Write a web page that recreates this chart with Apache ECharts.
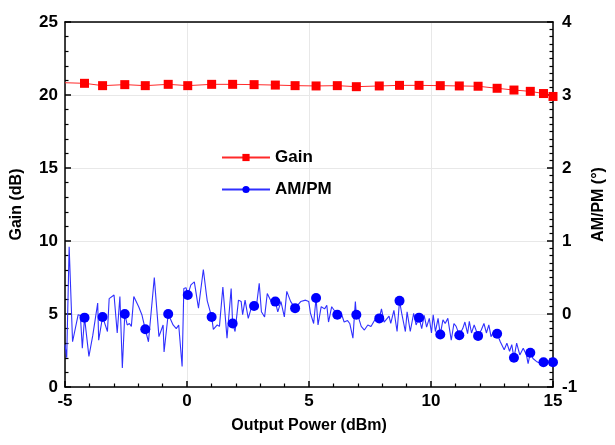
<html>
<head>
<meta charset="utf-8">
<style>
  html, body { margin: 0; padding: 0; background: #fff; }
  #container { width: 615px; height: 445px; }
</style>
</head>
<body>
<div id="container"></div>
<script type="text/javascript" src="https://cdn.jsdelivr.net/npm/echarts@6/dist/echarts.min.js"></script>
<script type="text/javascript">
  // output power (dBm) where the symbols sit, same for both curves
  const markerPower = [-4.20, -3.46, -2.55, -1.71, -0.77, 0.03, 1.01, 1.87, 2.75, 3.62, 4.43, 5.29, 6.16,
                       6.94, 7.88, 8.71, 9.51, 10.38, 11.16, 11.93, 12.71, 13.40, 14.07, 14.61, 15.0];
  const gainMarks = [20.80, 20.64, 20.71, 20.64, 20.73, 20.64, 20.73, 20.73, 20.71, 20.68, 20.64, 20.62, 20.64,
                     20.57, 20.62, 20.66, 20.66, 20.64, 20.62, 20.60, 20.46, 20.34, 20.25, 20.10, 19.90];
  const ampmMarks = [-0.05, -0.04, 0.00, -0.21, 0.00, 0.26, -0.04, -0.13, 0.11, 0.17, 0.08, 0.22, -0.01,
                     -0.01, -0.06, 0.18, -0.05, -0.28, -0.29, -0.30, -0.27, -0.60, -0.53, -0.66, -0.66];

  // line points in between the symbols
  const gainTracePower = [-5.0];
  const gainTrace = [20.84];

  const ampmTracePower = [
    -5.00, -4.93, -4.83, -4.69, -4.46, -4.37, -4.29, -4.02, -3.86, -3.66, -3.62, -3.39, -3.26, -3.19,
    -2.99, -2.86, -2.75, -2.65, -2.45, -2.36, -2.28, -2.18, -1.98, -1.85, -1.58, -1.34, -1.15, -0.98,
    -0.94, -0.57, -0.44, -0.34, -0.20, -0.13, -0.04, 0.16, 0.30, 0.47, 0.67, 0.79, 0.83, 1.08, 1.24,
    1.33, 1.47, 1.64, 1.81, 1.97, 2.11, 2.22, 2.28, 2.38, 2.51, 2.65, 2.85, 2.96, 3.05, 3.18, 3.29,
    3.45, 3.72, 3.85, 3.99, 4.09, 4.25, 4.66, 4.86, 4.99, 5.06, 5.19, 5.37, 5.50, 5.64, 5.73, 5.80,
    5.93, 6.34, 6.44, 6.58, 6.67, 6.80, 6.90, 7.04, 7.14, 7.27, 7.41, 7.54, 7.70, 7.97, 8.08, 8.28,
    8.35, 8.48, 8.61, 8.81, 8.95, 9.02, 9.15, 9.29, 9.39, 9.62, 9.72, 9.82, 9.93, 10.02, 10.09, 10.18,
    10.29, 10.49, 10.58, 10.69, 10.83, 10.94, 11.03, 11.30, 11.39, 11.50, 11.57, 11.66, 11.77, 12.06,
    12.17, 12.27, 12.37, 12.46, 12.57, 12.84, 13.00, 13.11, 13.22, 13.31, 13.51, 13.64, 13.78, 13.91,
    13.98, 14.18, 14.32, 14.45
  ];
  const ampmTrace = [
    -0.42, -0.60, 0.92, -0.38, -0.01, -0.02, -0.47, -0.58, -0.29, 0.15, -0.36, -0.04, -0.24, 0.21,
    0.26, -0.26, 0.24, -0.74, -0.15, -0.13, -0.17, 0.24, 0.10, -0.01, -0.38, 0.50, -0.31, -0.15,
    -0.52, -0.15, -0.20, -0.15, -0.72, 0.35, 0.36, 0.40, 0.44, 0.08, 0.61, 0.28, 0.18, -0.21, -0.15,
    -0.17, 0.37, -0.33, 0.35, -0.24, 0.19, 0.17, -0.01, 0.19, -0.06, 0.10, 0.12, 0.42, 0.03, -0.04, 0.28,
    0.17, 0.03, 0.17, -0.04, 0.31, 0.17, 0.17, 0.19, 0.17, 0.01, -0.13, -0.15, 0.10, 0.07, 0.12, -0.11,
    0.10, -0.01, -0.11, -0.09, -0.13, -0.33, 0.17, -0.06, -0.17, -0.22, -0.15, -0.17, -0.08, 0.07, -0.11, -0.03,
    -0.13, 0.05, -0.24, -0.01, -0.24, 0.03, -0.24, 0.01, -0.15, -0.20, -0.02, -0.18, -0.06, -0.26, -0.01, -0.24,
    -0.06, -0.08, -0.13, -0.06, -0.36, -0.13, -0.17, -0.20, -0.11, -0.27, -0.10, -0.26, -0.15, -0.22,
    -0.13, -0.26, -0.15, -0.31, -0.24, -0.38, -0.49, -0.40, -0.51, -0.42, -0.40, -0.56, -0.47, -0.56,
    -0.68, -0.61, -0.65, -0.67
  ];

  // merge trace points (no symbol) and symbol points into one sorted line
  function buildData(traceX, traceY, markX, markY) {
    let pts = [];
    traceX.forEach((x, i) => pts.push({ value: [x, traceY[i]], symbol: 'none' }));
    markX.forEach((x, i) => pts.push({ value: [x, markY[i]] }));
    pts.sort((a, b) => a.value[0] - b.value[0]);
    return pts;
  }

  const font = 'Liberation Sans';
  const labelStyle = { color: '#000', fontFamily: font, fontWeight: 'bold', fontSize: 17 };
  const nameStyle = { color: '#000', fontFamily: font, fontWeight: 'bold', fontSize: 16 };
  const axisLine = { show: true, onZero: false, lineStyle: { color: '#000', width: 1.5 } };

  var myChart = echarts.init(document.getElementById('container'), null, { renderer: 'canvas' });

  var option = {
    animation: false,
    grid: { left: 65, right: 53, top: 22, bottom: 58 },
    legend: {
      orient: 'vertical',
      left: 216,
      top: 144,
      itemWidth: 48,
      itemHeight: 9,
      itemGap: 15,
      textStyle: { color: '#000', fontFamily: font, fontWeight: 'bold', fontSize: 17 },
      data: ['Gain', 'AM/PM']
    },
    xAxis: [
      {
        type: 'value', min: -5, max: 15, interval: 5,
        name: 'Output Power (dBm)', nameLocation: 'middle', nameGap: 31, nameTextStyle: nameStyle,
        axisLine: axisLine,
        axisTick: { inside: true, length: 6, lineStyle: { color: '#000', width: 1.5 } },
        minorTick: { show: true, splitNumber: 5, length: 3.5, lineStyle: { color: '#000', width: 1.2 } },
        axisLabel: Object.assign({ margin: 6 }, labelStyle),
        splitLine: { show: true, lineStyle: { color: '#e8e8e8', width: 1 } }
      },
      {
        type: 'value', min: -5, max: 15, position: 'top',
        axisLine: axisLine,
        axisTick: { show: false }, axisLabel: { show: false }, splitLine: { show: false }
      }
    ],
    yAxis: [
      {
        type: 'value', min: 0, max: 25, interval: 5,
        name: 'Gain (dB)', nameLocation: 'middle', nameRotate: 90, nameGap: 40, nameTextStyle: nameStyle,
        axisLine: axisLine,
        axisTick: { inside: true, length: 6, lineStyle: { color: '#000', width: 1.5 } },
        minorTick: { show: true, splitNumber: 5, length: 3.5, lineStyle: { color: '#000', width: 1.2 } },
        axisLabel: Object.assign({ margin: 7 }, labelStyle),
        splitLine: { show: true, lineStyle: { color: '#e8e8e8', width: 1 } }
      },
      {
        type: 'value', min: -1, max: 4, interval: 1, position: 'right',
        name: 'AM/PM (°)', nameLocation: 'middle', nameRotate: 90, nameGap: 38, nameTextStyle: nameStyle,
        axisLine: axisLine,
        axisTick: { inside: true, length: 6, lineStyle: { color: '#000', width: 1.5 } },
        minorTick: { show: true, splitNumber: 10, length: 3.5, lineStyle: { color: '#000', width: 1.2 } },
        axisLabel: Object.assign({ margin: 9 }, labelStyle),
        splitLine: { show: false }
      }
    ],
    series: [
      {
        name: 'Gain',
        type: 'line',
        yAxisIndex: 0,
        data: buildData(gainTracePower, gainTrace, markerPower, gainMarks),
        symbol: 'rect',
        symbolSize: 9,
        showAllSymbol: true,
        color: '#ff0000',
        lineStyle: { color: '#ff2a2a', width: 1 },
        itemStyle: { color: '#ff0000' },
        z: 3
      },
      {
        name: 'AM/PM',
        type: 'line',
        yAxisIndex: 1,
        data: buildData(ampmTracePower, ampmTrace, markerPower, ampmMarks),
        symbol: 'circle',
        symbolSize: 10,
        showAllSymbol: true,
        color: '#0000ff',
        lineStyle: { color: '#3030ff', width: 1.1 },
        itemStyle: { color: '#0000ff' },
        z: 2
      }
    ]
  };

  myChart.setOption(option);
</script>
</body>
</html>
